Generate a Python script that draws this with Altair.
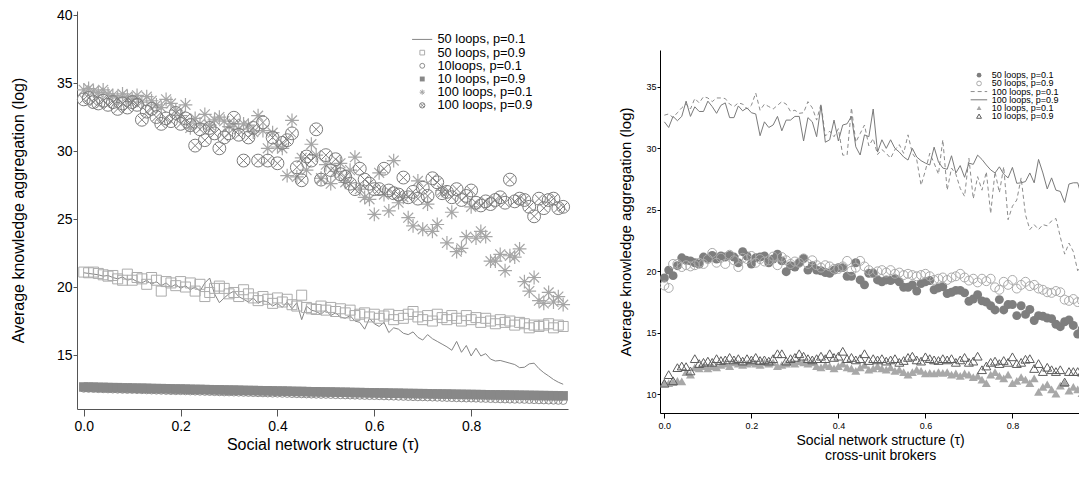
import altair as alt
import pandas as pd

FONT = "Liberation Sans"
TAU = [i / 100 for i in range(100)]

# ---------------- left panel series ----------------
L_50_P01 = [21.05, 21.0, 20.95, 20.9, 20.8, 20.85, 20.7, 20.6, 20.75, 20.5, 20.6, 20.4,
            20.3, 20.5, 20.2, 20.4, 20.1, 20.3, 20.0, 20.2, 19.9, 20.1, 19.8, 20.0, 19.7, 20.3,
            20.66, 19.5, 18.85, 19.2, 19.5, 19.7, 19.3, 19.1, 18.9, 19.2, 18.8, 19.0,
            18.9, 18.6, 18.8, 18.5, 18.9, 18.4, 18.85, 17.6, 18.6, 18.3, 18.2, 18.0, 18.3, 17.9,
            18.1, 17.8, 17.7, 17.9, 17.5, 17.4, 16.9, 17.7, 17.3, 17.1, 17.4, 16.65, 17.0,
            16.9, 16.6, 16.5, 16.7, 16.3, 16.1, 16.5, 16.2, 16.0, 15.8, 15.6, 15.35, 16.0, 15.2,
            15.7, 14.93, 15.5, 14.93, 15.1, 14.7, 14.56, 14.6, 14.5, 14.4, 14.3, 14.07,
            14.1, 14.35, 14.4, 14.0, 13.7, 13.46, 13.2, 13.0, 12.85]
L_50_P09 = [21.1, 21.05, 21.1, 21.0, 20.9, 20.8, 20.85, 20.6, 20.5, 20.95, 20.5, 20.7,
            20.6, 20.2, 20.7, 20.5, 19.7, 20.4, 20.3, 20.1, 20.4, 20.0, 20.3, 19.7, 20.2, 19.3,
            19.6, 19.9, 20.07, 19.9, 19.5, 19.6, 19.3, 19.8, 19.5, 19.2, 19.0, 19.3,
            19.1, 18.8, 19.2, 18.9, 19.1, 18.7, 18.6, 19.4, 18.5, 18.4, 18.35, 18.6, 18.3, 18.5,
            18.2, 18.4, 18.1, 18.3, 17.9, 18.0, 18.1, 17.8, 18.0, 17.7, 17.87, 18.0, 17.6,
            17.9, 17.7, 18.0, 18.2, 17.8, 17.6, 17.9, 17.5, 18.0, 17.75, 17.6, 17.9, 17.7, 17.5,
            17.9, 17.6, 17.75, 17.4, 17.7, 17.5, 17.3, 17.6, 17.4, 17.5, 17.2, 17.4,
            17.3, 17.0, 17.2, 17.1, 17.2, 17.3, 17.0, 17.2, 17.1]
L_10_P01 = [12.55, 12.54, 12.53, 12.52, 12.51, 12.50, 12.49, 12.48, 12.47, 12.46,
            12.46, 12.45, 12.44, 12.43, 12.42, 12.41, 12.40, 12.39, 12.38, 12.37,
            12.37, 12.36, 12.35, 12.34, 12.33, 12.32, 12.31, 12.30, 12.29, 12.28,
            12.28, 12.27, 12.26, 12.25, 12.24, 12.23, 12.22, 12.21, 12.20, 12.19,
            12.19, 12.18, 12.17, 12.16, 12.15, 12.14, 12.13, 12.12, 12.11, 12.10,
            12.10, 12.09, 12.08, 12.07, 12.06, 12.05, 12.04, 12.03, 12.02, 12.01,
            12.01, 12.00, 11.99, 11.98, 11.97, 11.96, 11.95, 11.94, 11.93, 11.92,
            11.92, 11.91, 11.90, 11.89, 11.88, 11.87, 11.86, 11.85, 11.84, 11.83,
            11.83, 11.82, 11.81, 11.80, 11.79, 11.78, 11.77, 11.76, 11.75, 11.74,
            11.74, 11.73, 11.72, 11.71, 11.70, 11.69, 11.68, 11.67, 11.66, 11.65]
L_10_P09 = [12.65, 12.64, 12.64, 12.62, 12.62, 12.61, 12.60, 12.60, 12.58, 12.58,
            12.57, 12.56, 12.56, 12.55, 12.54, 12.53, 12.53, 12.52, 12.51, 12.50,
            12.50, 12.49, 12.48, 12.47, 12.47, 12.46, 12.45, 12.44, 12.44, 12.43,
            12.42, 12.42, 12.41, 12.40, 12.39, 12.39, 12.38, 12.37, 12.37, 12.36,
            12.35, 12.35, 12.34, 12.33, 12.32, 12.32, 12.31, 12.30, 12.30, 12.29,
            12.28, 12.28, 12.27, 12.26, 12.26, 12.25, 12.24, 12.24, 12.23, 12.22,
            12.22, 12.21, 12.21, 12.20, 12.19, 12.19, 12.18, 12.17, 12.17, 12.16,
            12.16, 12.15, 12.14, 12.14, 12.13, 12.13, 12.12, 12.11, 12.11, 12.10,
            12.10, 12.09, 12.09, 12.08, 12.07, 12.07, 12.06, 12.06, 12.05, 12.05,
            12.04, 12.04, 12.03, 12.03, 12.02, 12.02, 12.01, 12.01, 12.00, 12.00]
L_100_P01 = [34.5, 34.6, 34.4, 34.3, 34.5, 34.2, 34.1, 33.9, 34.2, 34.0,
             33.8, 34.1, 33.6, 34.0, 33.7, 33.4, 33.2, 33.8, 33.5, 33.0,
             32.6, 33.4, 31.7, 32.4, 32.0, 32.7, 31.9, 32.3, 32.5, 32.2,
             31.8, 32.0, 31.6, 32.0, 31.9, 31.4, 32.6, 31.5, 30.2, 31.35,
             30.3, 30.2, 28.2, 32.25, 28.1, 29.5, 28.6, 30.5, 29.7, 28.0,
             29.0, 27.6, 28.5, 29.1, 27.7, 28.6, 29.55, 27.2, 26.6, 26.45,
             25.35, 28.4, 26.8, 25.6, 29.3, 26.2, 26.6, 25.1, 24.5, 27.8,
             24.25, 26.1, 24.1, 24.6, 27.1, 23.25, 25.5, 22.6, 22.85, 23.7,
             25.9, 23.6, 24.1, 23.7, 21.9, 21.9, 22.4, 21.2, 22.3, 22.2,
             22.8, 20.4, 19.7, 20.7, 19.0, 18.8, 19.6, 18.9, 19.3, 18.7]
L_100_P09 = [33.8, 33.9, 33.6, 33.5, 33.7, 33.4, 33.6, 33.1, 33.5, 33.2,
             33.6, 33.4, 32.3, 32.9, 33.1, 32.5, 32.0, 32.4, 32.2, 32.8,
             32.0, 32.4, 31.9, 30.4, 31.6, 30.8, 31.7, 31.3, 30.2, 31.0,
             31.3, 32.45, 31.2, 29.3, 31.0, 31.7, 29.3, 32.1, 29.3, 31.0,
             29.1, 30.6, 30.8, 31.3, 28.8, 27.85, 29.6, 29.3, 31.6, 27.9,
             29.7, 28.6, 29.4, 28.3, 28.1, 27.6, 27.2, 28.7, 27.9, 27.6,
             27.2, 27.2, 28.7, 27.1, 26.9, 26.8, 28.05, 26.6, 27.0, 26.5,
             27.3, 26.7, 28.0, 27.7, 26.9, 27.0, 26.6, 27.2, 26.4, 26.7,
             27.1, 26.2, 26.0, 26.3, 26.1, 26.4, 26.6, 26.2, 27.9, 26.3,
             26.5, 26.4, 25.9, 25.2, 26.5, 25.8, 26.4, 26.5, 25.8, 25.9]

# ---------------- right panel series ----------------
R_50_P01 = [19.46, 20.1, 19.65, 20.46, 21.1, 20.9, 20.85, 20.7, 20.6, 21.16,
            21.05, 21.3, 21.0, 21.25, 21.16, 21.3, 21.16, 20.7, 21.6, 21.25,
            20.6, 21.1, 21.16, 21.25, 20.7, 21.0, 21.4, 20.85, 19.97, 20.46,
            20.35, 20.7, 21.05, 20.1, 20.46, 20.1, 20.05, 19.9, 19.84, 20.1,
            20.3, 20.3, 19.6, 19.6, 20.7, 19.3, 18.9, 19.84, 19.84, 19.3,
            19.15, 19.3, 19.25, 19.4, 19.15, 18.7, 18.7, 18.9, 18.4, 19.0,
            19.15, 19.25, 18.5, 18.65, 18.75, 18.2, 18.3, 18.45, 18.45, 18.25,
            17.57, 17.75, 18.1, 17.6, 17.5, 17.2, 16.86, 17.7, 16.86, 17.3,
            17.3, 16.4, 17.2, 16.5, 16.9, 16.0, 16.4, 16.35, 16.2, 16.15,
            15.7, 15.5, 15.9, 16.05, 15.6, 14.9, 15.3, 14.8, 15.0, 14.6]
R_50_P09 = [18.85, 18.65, 20.6, 20.6, 20.35, 20.5, 20.4, 20.5, 20.7, 20.6,
            21.0, 21.5, 20.7, 21.1, 20.6, 21.35, 20.9, 20.35, 21.1, 21.0,
            21.25, 20.7, 21.0, 20.8, 20.9, 21.2, 20.5, 21.16, 20.9, 20.6,
            20.8, 20.7, 21.05, 20.6, 20.9, 20.5, 20.3, 20.5, 20.4, 20.2,
            20.2, 20.4, 20.85, 20.05, 20.3, 20.85, 20.4, 20.1, 19.85, 20.0,
            20.1, 19.9, 20.1, 19.8, 19.9, 19.7, 19.8, 19.7, 19.6, 19.7,
            19.8, 19.6, 19.3, 19.4, 19.5, 19.3, 19.5, 19.6, 19.8, 19.5,
            19.25, 19.4, 19.1, 19.4, 19.2, 19.4, 18.7, 18.5, 19.15, 18.9,
            19.3, 18.6, 18.9, 19.15, 18.8, 18.9, 18.6, 18.5, 18.3, 18.25,
            18.4, 18.3, 17.7, 17.6, 17.75, 17.5, 17.6, 17.4, 17.5, 17.3]
R_100_P01 = [32.7, 32.8, 32.5, 32.9, 33.3, 33.6, 33.2, 34.06, 33.7, 34.2,
             34.1, 33.8, 34.1, 34.1, 34.05, 33.6, 33.4, 33.7, 33.6, 33.2,
             33.5, 34.5, 33.1, 33.6, 33.4, 33.2, 33.5, 33.8, 33.6, 33.0,
             33.1, 32.85, 32.9, 33.8, 33.3, 32.3, 33.6, 31.0, 31.4, 30.95,
             31.6, 29.45, 29.45, 33.3, 30.5, 31.2, 31.9, 30.2, 30.8, 29.5,
             29.9, 29.6, 29.2, 29.9, 30.3, 29.6, 31.1, 29.6, 29.1, 27.0,
             28.2, 29.6, 28.8, 27.9, 30.7, 26.6, 28.4, 27.9, 26.75, 26.1,
             29.2, 25.9, 27.7, 26.6, 28.1, 24.7, 28.1, 26.4, 28.5, 24.2,
             25.3, 25.8, 27.6, 24.6, 23.4, 23.8, 23.4, 23.8, 23.7, 24.1,
             24.3, 22.8, 21.4, 22.3, 21.6, 20.05, 20.8, 20.4, 20.1, 19.8]
R_100_P09 = [32.16, 31.7, 32.6, 32.25, 32.6, 33.84, 32.6, 33.38, 33.0, 33.0,
             33.84, 33.4, 32.85, 33.5, 33.7, 32.5, 32.5, 33.45, 33.05, 33.3,
             32.9, 32.8, 31.03, 32.16, 31.7, 31.9, 32.6, 31.43, 32.3, 32.3,
             32.6, 32.6, 30.6, 32.5, 32.16, 30.95, 33.5, 30.5, 30.7, 32.3,
             30.6, 31.9, 32.0, 32.6, 30.13, 29.46, 31.1, 30.95, 33.2, 29.7,
             30.7, 30.0, 30.7, 30.0, 29.7, 29.3, 29.05, 30.0, 29.3, 29.0,
             28.8, 28.65, 30.1, 28.9, 28.4, 28.3, 29.4, 28.0, 28.6, 27.65,
             28.8, 28.7, 29.45, 29.1, 28.65, 28.25, 28.0, 28.5, 27.9, 27.6,
             28.45, 27.16, 27.2, 27.3, 28.0, 27.2, 29.1, 28.0, 26.7, 27.6,
             26.6, 26.5, 25.6, 27.1, 27.2, 27.2, 26.0, 25.9, 26.2, 25.8]
R_10_P01 = [10.9, 10.9, 11.0, 11.1, 11.05, 11.8, 11.6, 12.2, 12.1, 12.3,
            12.1, 12.3, 12.2, 12.4, 12.5, 12.3, 12.6, 12.5, 12.4, 12.5,
            12.6, 12.5, 12.4, 12.6, 12.5, 12.6, 12.3, 12.4, 12.5, 12.6,
            12.5, 12.7, 12.6, 12.5, 12.6, 12.3, 12.2, 12.4, 12.3, 12.1,
            12.3, 12.5, 12.2, 12.1, 11.9, 12.2, 12.4, 12.0, 12.1, 12.3,
            12.1, 12.0, 12.2, 11.9, 12.0, 11.8, 11.6, 11.8, 12.0, 11.9,
            11.7, 11.75, 11.7, 11.8, 11.75, 11.8, 11.6, 11.7, 11.5, 11.7,
            11.6, 11.4, 11.5, 11.2, 10.9, 11.6, 11.8, 11.5, 11.3, 11.6,
            10.9, 11.1, 11.4, 11.2, 10.9, 11.3, 10.2, 10.6, 10.8, 10.4,
            10.05, 10.7, 10.9, 10.3, 10.6, 10.4, 10.1, 10.3, 10.0, 10.2]
R_10_P09 = [10.9, 11.6, 11.1, 12.17, 12.3, 12.25, 11.9, 12.9, 12.5, 12.6,
            12.7, 12.6, 12.9, 12.75, 12.8, 13.0, 12.8, 12.9, 12.7, 12.9,
            12.8, 13.0, 12.75, 12.8, 12.7, 12.9, 13.3, 13.3, 12.7, 12.9,
            13.0, 13.3, 13.1, 12.9, 12.8, 12.9, 13.1, 12.9, 13.3, 13.0,
            13.1, 13.5, 12.9, 13.0, 12.8, 12.9, 13.3, 12.75, 12.9, 12.8,
            12.9, 12.7, 12.8, 12.9, 12.6, 12.75, 13.0, 13.1, 12.8, 12.7,
            13.05, 12.9, 12.8, 12.75, 12.9, 12.8, 12.9, 12.6, 12.8, 13.0,
            12.6, 12.7, 13.1, 12.0, 12.3, 12.6, 12.7, 12.5, 12.75, 12.6,
            13.05, 12.5, 12.6, 12.85, 12.9, 12.1, 12.5, 11.85, 12.2, 12.0,
            11.85, 12.0, 11.0, 11.85, 11.85, 11.85, 11.8, 11.9, 11.7, 11.8]

LEFT_LABELS = ["50 loops, p=0.1", "50 loops, p=0.9", "10loops, p=0.1",
               "10 loops, p=0.9", "100 loops, p=0.1", "100 loops, p=0.9"]
RIGHT_LABELS = ["50 loops, p=0.1", "50 loops, p=0.9", "100 loops, p=0.1",
                "100 loops, p=0.9", "10 loops, p=0.1", "10 loops, p=0.9"]
LEFT_LEG_Y = [38.21, 37.24, 36.27, 35.30, 34.33, 33.36]
RIGHT_LEG_Y = [35.95, 35.28, 34.62, 33.95, 33.29, 32.62]
X_TICKS = [0.0, 0.2, 0.4, 0.6, 0.8]
LEFT_Y_TICKS = [15, 20, 25, 30, 35, 40]
RIGHT_Y_TICKS = [10, 15, 20, 25, 30, 35]

ASTERISK = "M-1,0L1,0M0,-1L0,1M-0.72,-0.72L0.72,0.72M-0.72,0.72L0.72,-0.72"
XMARK = "M-0.68,-0.68L0.68,0.68M-0.68,0.68L0.68,-0.68"

# ================= LEFT PANEL =================
ldf = pd.DataFrame({"tau": TAU, "a": L_50_P01, "b": L_50_P09, "c": L_10_P01,
                    "d": L_10_P09, "e": L_100_P01, "f": L_100_P09})
lxs = alt.Scale(domain=[-0.014, 1.0], nice=False, zero=False)
lys = alt.Scale(domain=[11.03, 40.3], nice=False, zero=False)
lxa = alt.Axis(values=X_TICKS, format=".1f", title="Social network structure (τ)",
               grid=False, domainColor="#555555", tickColor="#555555", tickSize=7,
               labelFontSize=14, titleFontSize=16, labelPadding=3, titlePadding=3,
               labelColor="black", titleColor="black", titleFontWeight="normal")
lya = alt.Axis(values=LEFT_Y_TICKS, format="d", title="Average knowledge aggregation (log)",
               grid=False, domainColor="#555555", tickColor="#555555", tickSize=4,
               labelFontSize=14, titleFontSize=16, labelPadding=1, titlePadding=30,
               labelColor="black", titleColor="black", titleFontWeight="normal")


def LX(f):
    return alt.X(f, type="quantitative", scale=lxs, axis=lxa)


def LY(f):
    return alt.Y(f, type="quantitative", scale=lys, axis=lya)


base_l = alt.Chart(ldf)
left_layers = [
    base_l.mark_line(color="#858585", strokeWidth=1).encode(x=LX("tau"), y=LY("a")),
    base_l.mark_point(shape="square", filled=False, size=100, color="#acacac",
                      strokeWidth=1, opacity=1).encode(x=LX("tau"), y=LY("b")),
    base_l.mark_point(shape="circle", filled=False, size=60, color="#8e8e8e",
                      strokeWidth=1, opacity=1).encode(x=LX("tau"), y=LY("c")),
    base_l.mark_point(shape="square", filled=True, size=90, color="#888888",
                      strokeWidth=0, opacity=1).encode(x=LX("tau"), y=LY("d")),
    base_l.mark_point(shape=ASTERISK, filled=False, size=190, color="#a6a6a6",
                      strokeWidth=1.2, opacity=1).encode(x=LX("tau"), y=LY("e")),
    base_l.mark_point(shape="circle", filled=False, size=165, color="#7c7c7c",
                      strokeWidth=1, opacity=1).encode(x=LX("tau"), y=LY("f")),
    base_l.mark_point(shape=XMARK, filled=False, size=165, color="#7c7c7c",
                      strokeWidth=1, opacity=1).encode(x=LX("tau"), y=LY("f")),
]

lleg = pd.DataFrame({"label": LEFT_LABELS, "y": LEFT_LEG_Y,
                     "sx": [0.699] * 6, "tx": [0.7305] * 6,
                     "x1": [0.678] * 6, "x2": [0.7196] * 6})


def lrow(k):
    return alt.Chart(lleg.iloc[[k]])


left_layers += [
    lrow(0).mark_rule(color="#858585", strokeWidth=1).encode(x=LX("x1"), x2="x2", y=LY("y")),
    lrow(1).mark_point(shape="square", filled=False, size=22, color="#acacac", opacity=1,
                       strokeWidth=1).encode(x=LX("sx"), y=LY("y")),
    lrow(2).mark_point(shape="circle", filled=False, size=24, color="#8e8e8e", opacity=1,
                       strokeWidth=1).encode(x=LX("sx"), y=LY("y")),
    lrow(3).mark_point(shape="square", filled=True, size=24, color="#888888", opacity=1,
                       strokeWidth=0).encode(x=LX("sx"), y=LY("y")),
    lrow(4).mark_point(shape=ASTERISK, filled=False, size=28, color="#a6a6a6", opacity=1,
                       strokeWidth=1).encode(x=LX("sx"), y=LY("y")),
    lrow(5).mark_point(shape="circle", filled=False, size=28, color="#7c7c7c", opacity=1,
                       strokeWidth=1).encode(x=LX("sx"), y=LY("y")),
    lrow(5).mark_point(shape=XMARK, filled=False, size=28, color="#7c7c7c", opacity=1,
                       strokeWidth=0.8).encode(x=LX("sx"), y=LY("y")),
    alt.Chart(lleg).mark_text(align="left", baseline="middle", fontSize=12.8,
                              color="black", font=FONT).encode(
        x=LX("tx"), y=LY("y"), text="label:N"),
]

left = alt.layer(*left_layers).properties(width=491, height=398)

# ================= RIGHT PANEL =================
rdf = pd.DataFrame({"tau": TAU, "a": R_50_P01, "b": R_50_P09, "c": R_100_P01,
                    "d": R_100_P09, "e": R_10_P01, "f": R_10_P09})
rxs = alt.Scale(domain=[-0.01, 0.953], nice=False, zero=False)
rys = alt.Scale(domain=[8.48, 38.0], nice=False, zero=False)
rxa = alt.Axis(values=X_TICKS, format=".1f",
               title=["Social network structure (τ)", "cross-unit brokers"],
               grid=False, domainColor="black", tickColor="black", tickSize=5,
               labelFontSize=9, titleFontSize=14, titleLineHeight=15, labelPadding=3,
               titlePadding=3, titleX=220, labelColor="black", titleColor="black",
               titleFontWeight="normal")
rya = alt.Axis(values=RIGHT_Y_TICKS, format="d", title="Average knowledge aggregation (log)",
               grid=False, domainColor="black", tickColor="black", tickSize=3,
               labelFontSize=9, titleFontSize=15, labelPadding=1, titlePadding=12,
               labelColor="black", titleColor="black", titleFontWeight="normal")


def RX(f):
    return alt.X(f, type="quantitative", scale=rxs, axis=rxa)


def RY(f):
    return alt.Y(f, type="quantitative", scale=rys, axis=rya)


base_r = alt.Chart(rdf)
right_layers = [
    base_r.mark_point(shape="circle", filled=True, size=80, color="#7e7e7e", opacity=1,
                      strokeWidth=0, clip=True).encode(x=RX("tau"), y=RY("a")),
    base_r.mark_point(shape="circle", filled=False, size=80, color="#ababab", opacity=1,
                      strokeWidth=1, clip=True).encode(x=RX("tau"), y=RY("b")),
    base_r.mark_line(color="#8c8c8c", strokeWidth=1, strokeDash=[4, 3],
                     clip=True).encode(x=RX("tau"), y=RY("c")),
    base_r.mark_line(color="#7a7a7a", strokeWidth=1, clip=True).encode(x=RX("tau"), y=RY("d")),
    base_r.mark_point(shape="triangle-up", filled=True, size=80, color="#a8a8a8", opacity=1,
                      strokeWidth=0, clip=True).encode(x=RX("tau"), y=RY("e")),
    base_r.mark_point(shape="triangle-up", filled=False, size=80, color="#5c5c5c", opacity=1,
                      strokeWidth=1, clip=True).encode(x=RX("tau"), y=RY("f")),
]

rleg = pd.DataFrame({"label": RIGHT_LABELS, "y": RIGHT_LEG_Y,
                     "sx": [0.7233] * 6, "tx": [0.7525] * 6,
                     "x1": [0.704] * 6, "x2": [0.742] * 6})


def rrow(k):
    return alt.Chart(rleg.iloc[[k]])


right_layers += [
    rrow(0).mark_point(shape="circle", filled=True, size=22, color="#7e7e7e", opacity=1,
                       strokeWidth=0).encode(x=RX("sx"), y=RY("y")),
    rrow(1).mark_point(shape="circle", filled=False, size=22, color="#ababab", opacity=1,
                       strokeWidth=1).encode(x=RX("sx"), y=RY("y")),
    rrow(2).mark_rule(color="#8c8c8c", strokeWidth=1, strokeDash=[4, 3]).encode(
        x=RX("x1"), x2="x2", y=RY("y")),
    rrow(3).mark_rule(color="#7a7a7a", strokeWidth=1).encode(x=RX("x1"), x2="x2", y=RY("y")),
    rrow(4).mark_point(shape="triangle-up", filled=True, size=24, color="#a8a8a8", opacity=1,
                       strokeWidth=0).encode(x=RX("sx"), y=RY("y")),
    rrow(5).mark_point(shape="triangle-up", filled=False, size=24, color="#5c5c5c", opacity=1,
                       strokeWidth=1).encode(x=RX("sx"), y=RY("y")),
    alt.Chart(rleg).mark_text(align="left", baseline="middle", fontSize=9,
                              color="black", font=FONT).encode(
        x=RX("tx"), y=RY("y"), text="label:N"),
]

right_plot = alt.layer(*right_layers).properties(width=419, height=363)

# transparent spacer that lowers the right panel below the left panel's top
spacer = alt.Chart(pd.DataFrame({"v": [0]})).mark_rule(opacity=0, strokeWidth=0).encode(
    x=alt.value(0), y=alt.value(0), y2=alt.value(39)
).properties(width=419, height=39)

right = alt.vconcat(spacer, right_plot, spacing=0)

chart = alt.hconcat(left, right, spacing=45).properties(
    padding={"left": 2, "top": 0, "right": 0, "bottom": 0}
).configure(font=FONT).configure_view(stroke=None, strokeWidth=0)

chart.save("out.html", embed_options={"renderer": "svg", "actions": False})
